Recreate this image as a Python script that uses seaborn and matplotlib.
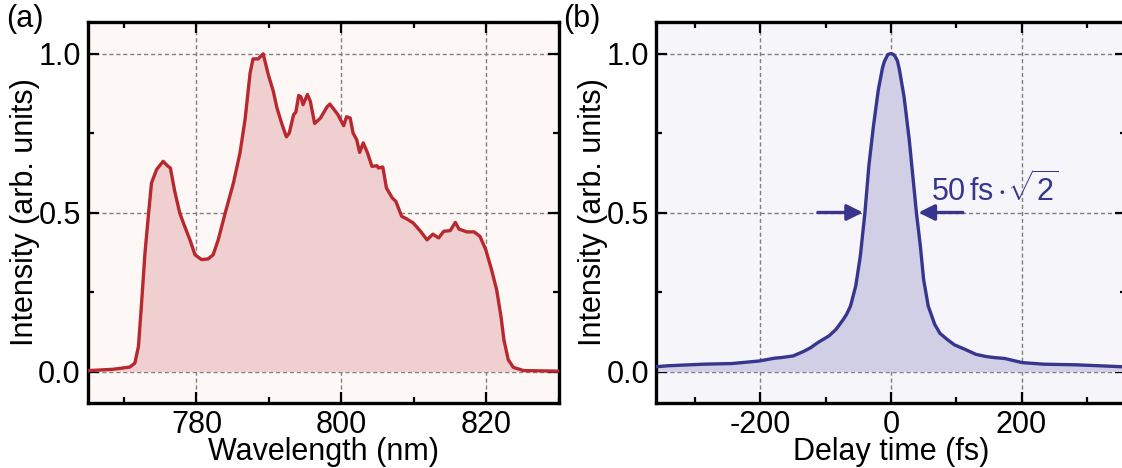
import numpy as np
import pandas as pd
import matplotlib
matplotlib.use("Agg")
import matplotlib.pyplot as plt
from matplotlib.ticker import MultipleLocator
import seaborn as sns

# ---- data: panel (a) spectrum ----
wavelength = [765.0, 765.3, 768.5, 770.8, 771.5, 772.0, 772.4, 772.9, 773.4, 773.8, 774.5, 775.4,
              776.0, 776.4, 777.0, 777.7, 778.2, 779.1, 779.8, 780.7, 781.6, 782.3, 783.0, 783.9,
              785.1, 786.0, 786.7, 787.4, 787.8, 788.5, 789.2, 789.9, 790.6, 791.1, 791.8, 792.4,
              792.8, 793.4, 793.7, 794.1, 794.4, 794.7, 795.3, 795.7, 796.3, 797.1, 798.0, 798.4,
              798.9, 799.5, 800.3, 800.7, 801.2, 801.6, 802.1, 802.5, 803.0, 803.6, 804.2, 804.9,
              805.1, 805.7, 806.2, 807.0, 807.5, 808.3, 809.0, 809.9, 810.9, 811.8, 812.6, 813.4,
              814.1, 815.0, 815.7, 816.2, 817.3, 818.3, 819.1, 819.9, 820.7, 821.4, 822.0, 822.4,
              823.0, 823.7, 825.1, 830.0]
spectrum = [0.002, 0.003, 0.007, 0.014, 0.026, 0.079, 0.205, 0.373, 0.498, 0.593, 0.635, 0.661,
            0.647, 0.640, 0.567, 0.498, 0.467, 0.414, 0.367, 0.352, 0.354, 0.367, 0.414, 0.493,
            0.593, 0.687, 0.792, 0.939, 0.983, 0.983, 0.999, 0.934, 0.881, 0.829, 0.777, 0.738,
            0.750, 0.808, 0.815, 0.868, 0.864, 0.839, 0.871, 0.850, 0.780, 0.797, 0.832, 0.841,
            0.826, 0.808, 0.773, 0.801, 0.797, 0.750, 0.729, 0.689, 0.719, 0.687, 0.645, 0.647,
            0.640, 0.643, 0.577, 0.546, 0.535, 0.488, 0.480, 0.467, 0.441, 0.414, 0.432, 0.420,
            0.441, 0.443, 0.469, 0.448, 0.439, 0.439, 0.425, 0.383, 0.320, 0.257, 0.173, 0.100,
            0.037, 0.013, 0.003, 0.001]

# ---- data: panel (b) autocorrelation ----
delay = [-360, -342, -287, -244, -202, -178, -167, -150, -134, -123, -112, -95, -84, -73, -68, -62,
         -54, -47, -40, -34, -27, -19.5, -13, -10, -6, -4.7, 0, 3.6, 6, 10, 13, 20, 28, 35, 39, 45,
         50, 57, 67, 75, 86, 97, 113, 130, 146, 157, 174, 201, 234, 284, 354, 360]
autocorr = [0.015, 0.018, 0.023, 0.025, 0.033, 0.042, 0.044, 0.049, 0.063, 0.075, 0.091, 0.112,
            0.133, 0.164, 0.180, 0.206, 0.269, 0.363, 0.498, 0.645, 0.770, 0.885, 0.955, 0.976,
            0.992, 0.997, 1.0, 0.997, 0.992, 0.976, 0.948, 0.864, 0.728, 0.582, 0.498, 0.394,
            0.289, 0.206, 0.148, 0.120, 0.101, 0.084, 0.070, 0.054, 0.047, 0.044, 0.041, 0.028,
            0.023, 0.021, 0.015, 0.015]

fwhm_label = r'$\mathregular{50\,fs\cdot\!\sqrt{2}}$'
arrow_left = (-112, -43)
arrow_right = (110, 42)

df_a = pd.DataFrame({"wl": wavelength, "I": spectrum})
df_b = pd.DataFrame({"t": delay, "I": autocorr})

sns.set_theme(style="ticks")
plt.rcParams['font.family'] = ['Liberation Sans', 'DejaVu Sans']
plt.rcParams['mathtext.fontset'] = 'custom'
plt.rcParams['mathtext.rm'] = 'Liberation Sans'
plt.rcParams['mathtext.it'] = 'Liberation Sans:italic'
plt.rcParams['mathtext.bf'] = 'Liberation Sans:bold'
plt.rcParams['axes.unicode_minus'] = False
plt.rcParams['text.color'] = 'black'
plt.rcParams['axes.labelcolor'] = 'black'
plt.rcParams['xtick.color'] = 'black'
plt.rcParams['ytick.color'] = 'black'

red = "#b8282f"
red_fill = "#efcfcf"
red_bg = "#fdf8f6"
blue = "#38358f"
blue_fill = "#d0cfe5"
blue_bg = "#f6f6fa"

fig = plt.figure(figsize=(11.22, 4.68), dpi=100)
ax_a = fig.add_axes([87.7 / 1122, (468 - 403.3) / 468, 471.3 / 1122, 381.6 / 468])
ax_b = fig.add_axes([656 / 1122, (468 - 403.3) / 468, 470 / 1122, 381.6 / 468])

FS = 22

def style(ax, bg):
    ax.set_facecolor(bg)
    for s in ax.spines.values():
        s.set_linewidth(2.4)
        s.set_color('black')
        s.set_visible(True)
    ax.tick_params(which='both', direction='in', top=True, right=True,
                   width=1.6, color='black', labelsize=FS, labelcolor='black')
    ax.tick_params(which='major', length=8, pad=5)
    ax.tick_params(which='minor', length=4)
    ax.set_ylim(-0.1, 1.1)
    ax.yaxis.set_major_locator(MultipleLocator(0.5))
    ax.yaxis.set_minor_locator(MultipleLocator(0.25))
    ax.yaxis.set_major_formatter(matplotlib.ticker.FormatStrFormatter('%.1f'))
    ax.grid(True, which='major', linestyle=(0, (3, 2)), color='#808080', linewidth=1.0)
    ax.set_axisbelow(True)

# panel a
style(ax_a, red_bg)
ax_a.fill_between(df_a["wl"], df_a["I"], 0, color=red_fill, zorder=1.5, linewidth=0)
sns.lineplot(data=df_a, x="wl", y="I", ax=ax_a, color=red, linewidth=2.4, zorder=3)
ax_a.set_xlim(765, 830)
ax_a.xaxis.set_major_locator(MultipleLocator(20))
ax_a.xaxis.set_minor_locator(MultipleLocator(10))
ax_a.set_xlabel("Wavelength (nm)", fontsize=FS, labelpad=-2)
ax_a.set_ylabel("Intensity (arb. units)", fontsize=FS, labelpad=-1)

# panel b
style(ax_b, blue_bg)
ax_b.fill_between(df_b["t"], df_b["I"], 0, color=blue_fill, zorder=1.5, linewidth=0)
sns.lineplot(data=df_b, x="t", y="I", ax=ax_b, color=blue, linewidth=2.4, zorder=3)
ax_b.set_xlim(-360, 360)
ax_b.xaxis.set_major_locator(MultipleLocator(200))
ax_b.xaxis.set_minor_locator(MultipleLocator(100))
ax_b.set_xlabel("Delay time (fs)", fontsize=FS, labelpad=-2)
ax_b.set_ylabel("Intensity (arb. units)", fontsize=FS, labelpad=-1)

for (x0, x1) in (arrow_left, arrow_right):
    ax_b.annotate("", xy=(x1, 0.5), xytext=(x0, 0.5),
                  arrowprops=dict(arrowstyle='-|>', color=blue, lw=2.4,
                                  mutation_scale=24, shrinkA=0, shrinkB=0),
                  zorder=4)
ax_b.text(62, 0.515, fwhm_label, color=blue, fontsize=FS, ha='left', va='bottom', zorder=4)

fig.text(6 / 1122, 1 - 4 / 468, "(a)", fontsize=FS, ha='left', va='top')
fig.text(563 / 1122, 1 - 4 / 468, "(b)", fontsize=FS, ha='left', va='top')

fig.savefig("out.png", dpi=100)
